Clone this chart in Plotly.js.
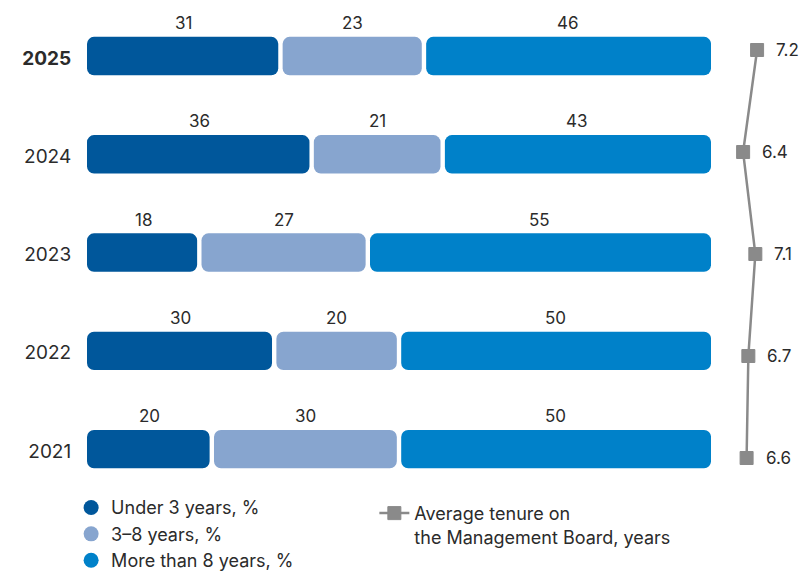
<!DOCTYPE html>
<html>
<head>
<meta charset="utf-8">
<script src="https://cdn.plot.ly/plotly-3.0.1.min.js"></script>
<style>html,body{margin:0;padding:0;background:#fff}#chart{width:809px;height:575px}</style>
</head>
<body>
<div id="chart"></div>
<script>
// ---- data ----
const years = ['2021', '2022', '2023', '2024', '2025'];
const yearLabels = ['2021', '2022', '2023', '2024', '<b>2025</b>'];
const under3 = [20, 30, 18, 36, 31];
const from3to8 = [30, 20, 27, 21, 23];
const over8 = [50, 50, 55, 43, 46];
const tenure = [6.6, 6.7, 7.1, 6.4, 7.2];
const seriesNames = ['Under 3 years, %', '3–8 years, %', 'More than 8 years, %'];
const tenureName = 'Average tenure on<br>the Management Board, years';

// ---- style ----
const colors = ['#00579b', '#87a5cf', '#0081c9'];
const grey = '#8a8a8a';
const textColor = '#2b2b2b';
const font = 'Inter, Roboto, "Noto Sans", sans-serif';
const gap = 0.7;     // white gap between segments, in % units

const series = [under3, from3to8, over8];
const traces = [];
const annotations = [];

series.forEach((vals, k) => {
  const seg = {base: [], x: [], y: []};
  years.forEach((yr, i) => {
    let start = 0;
    for (let j = 0; j < k; j++) start += series[j][i];
    const end = start + vals[i];
    const a = start + (k > 0 ? gap / 2 : 0);
    const b = end - (k < series.length - 1 ? gap / 2 : 0);
    seg.base.push(a); seg.x.push(b - a); seg.y.push(yr);
    annotations.push({
      x: (start + end) / 2, y: i, xref: 'x', yref: 'y',
      text: String(vals[i]), showarrow: false, yshift: 33,
      font: {family: font, size: 17, color: textColor}
    });
  });
  traces.push({
    type: 'bar', orientation: 'h', x: seg.x, y: seg.y, base: seg.base,
    width: 0.39, marker: {color: colors[k], cornerradius: 7, line: {width: 0}},
    showlegend: false, hoverinfo: 'skip', xaxis: 'x', yaxis: 'y'
  });
  // legend entry
  traces.push({
    type: 'scatter', mode: 'markers', x: [null], y: [null], name: seriesNames[k],
    marker: {symbol: 'circle', size: 15, color: colors[k]},
    legend: 'legend', xaxis: 'x', yaxis: 'y'
  });
});

traces.push({
  type: 'scatter', mode: 'lines+markers', x: tenure, y: years,
  xaxis: 'x2', yaxis: 'y2', name: tenureName, legend: 'legend2',
  line: {color: grey, width: 2.5},
  marker: {symbol: 'square', size: 13, color: grey, line: {color: grey, width: 1}},
  cliponaxis: false
});
tenure.forEach((v, i) => annotations.push({
  x: v, y: i, xref: 'x2', yref: 'y2', text: v.toFixed(1), showarrow: false,
  xanchor: 'left', xshift: 17, font: {family: font, size: 17, color: textColor}
}));

const layout = {
  width: 809, height: 575,
  margin: {l: 87, r: 0, t: 7, b: 0, autoexpand: false},
  paper_bgcolor: '#fff', plot_bgcolor: '#fff',
  barmode: 'overlay',
  font: {family: font, color: textColor},
  xaxis: {domain: [0, 0.8643], range: [0, 100], visible: false, fixedrange: true},
  yaxis: {type: 'category', categoryarray: years, range: [-1.282, 4.499],
    tickvals: years, ticktext: yearLabels, tickfont: {size: 19, color: textColor},
    ticks: 'outside', ticklen: 11, tickcolor: 'rgba(0,0,0,0)', ticklabelshift: 2,
    showgrid: false, zeroline: false, showline: false},
  xaxis2: {domain: [0.87, 1], range: [4.8, 10.17], anchor: 'y2', visible: false},
  yaxis2: {type: 'category', categoryarray: years, range: [-1.147, 4.4216], anchor: 'x2',
    domain: [0, 1], visible: false},
  annotations: annotations,
  legend: {x: -0.022, xanchor: 'left', y: 0.151, yanchor: 'top', orientation: 'v',
    font: {size: 18, color: textColor}, tracegroupgap: 0, bgcolor: 'rgba(0,0,0,0)'},
  legend2: {x: 0.398, xanchor: 'left', y: 0.141, yanchor: 'top', valign: 'top',
    font: {size: 18, color: textColor}, bgcolor: 'rgba(0,0,0,0)'},
  showlegend: true
};

Plotly.newPlot('chart', traces, layout, {displayModeBar: false, staticPlot: true});
</script>
</body>
</html>
